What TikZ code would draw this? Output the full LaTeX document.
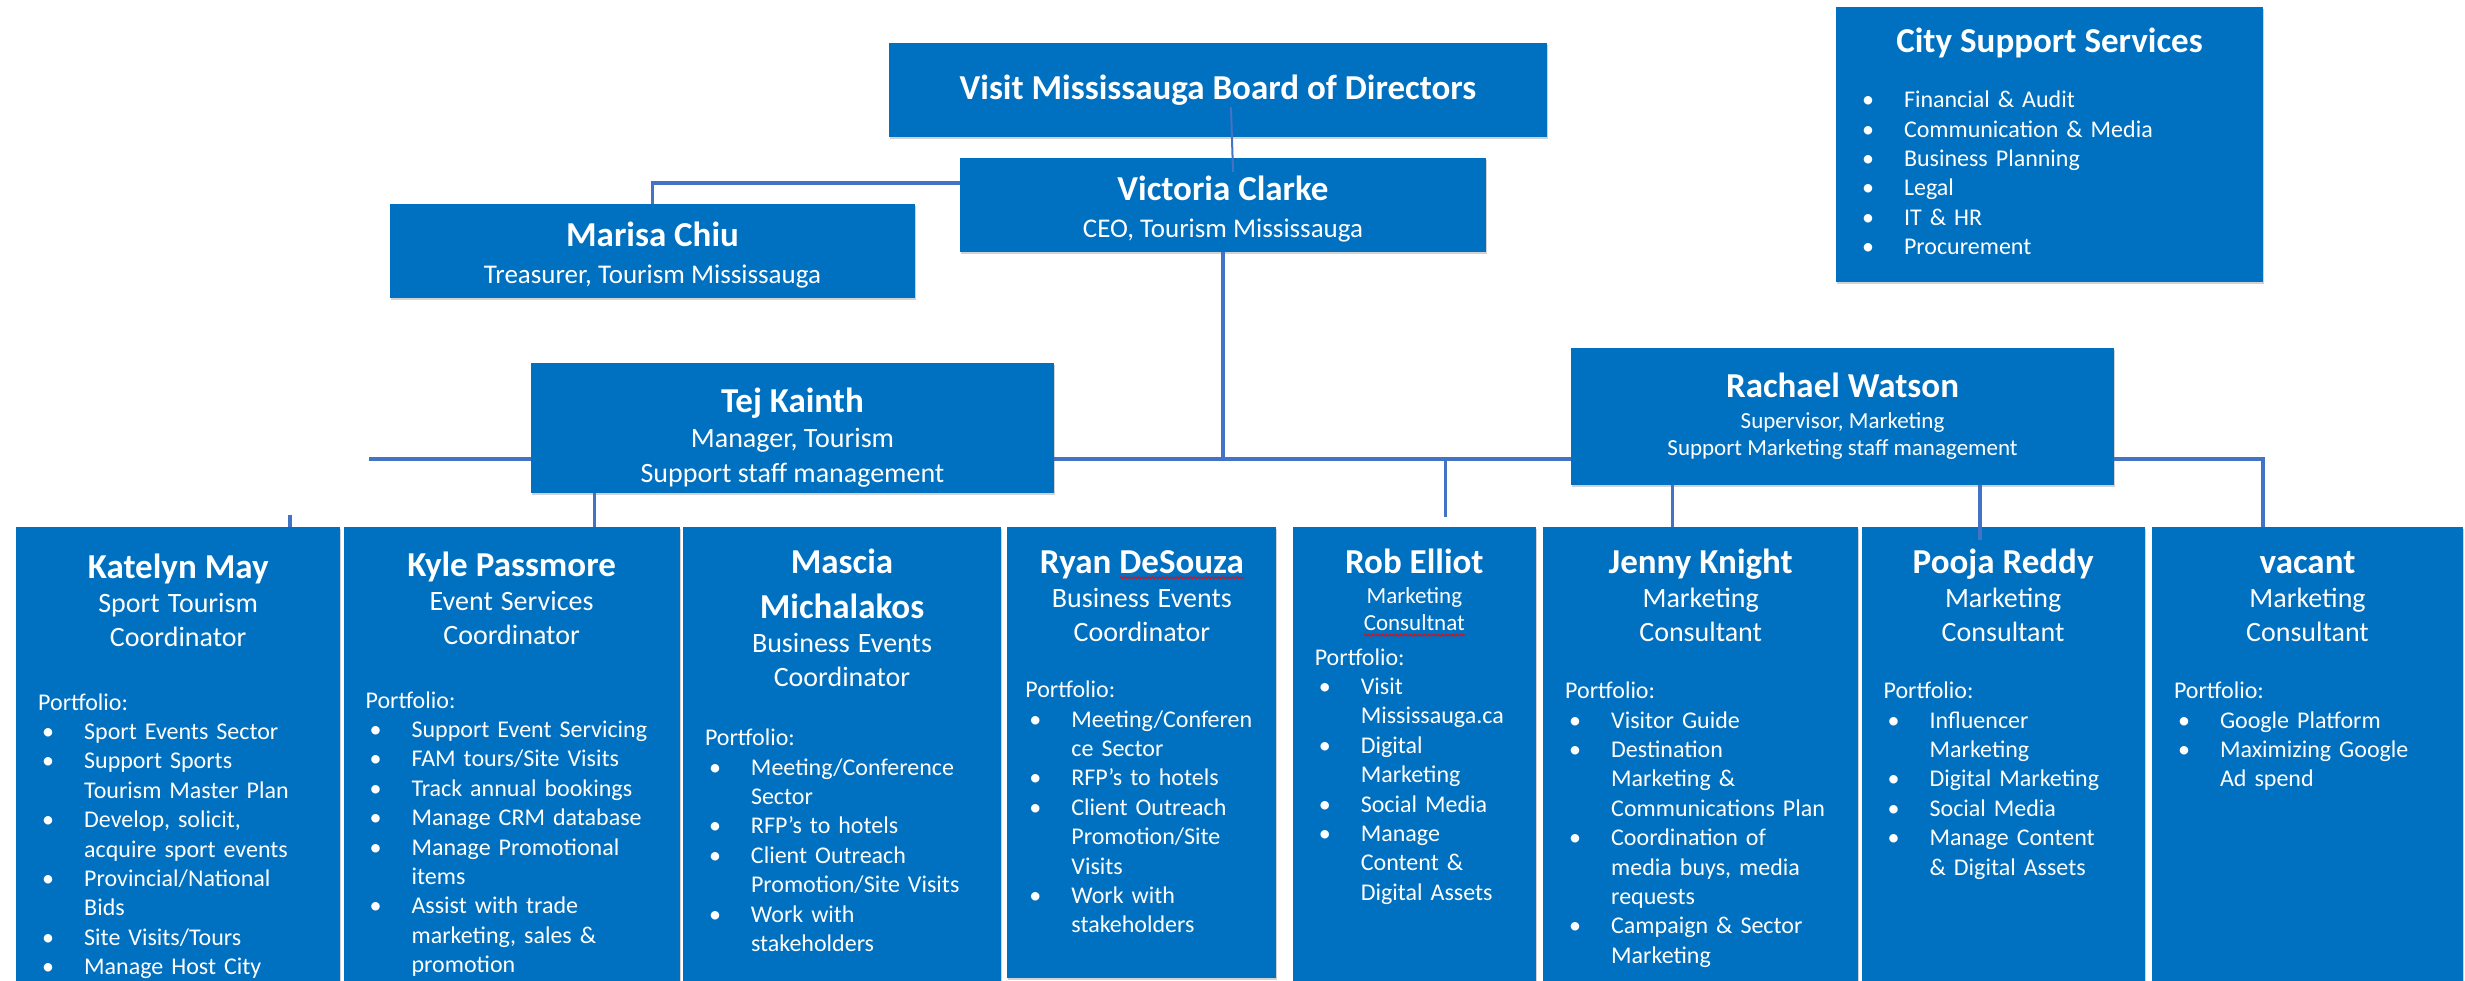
\documentclass[tikz,border=0pt]{standalone}
\usepackage{fontspec}
\setmainfont{Carlito}
\usetikzlibrary{positioning,shadows,decorations.pathmorphing}

\definecolor{boxblue}{RGB}{0,112,192}
\definecolor{linkblue}{RGB}{68,114,196}
\hyphenpenalty=10000
\exhyphenpenalty=10000

\tikzstyle{boss} = [rectangle, fill=boxblue, text=white, align=center, inner sep=0pt,
    minimum height=94pt, font=\fontsize{27}{37}\selectfont,
    drop shadow={shadow xshift=1pt, shadow yshift=-2pt, opacity=.35}]
\tikzstyle{staffbox} = [rectangle, fill=boxblue, inner sep=0pt, minimum height=470pt,
    drop shadow={shadow xshift=1pt, shadow yshift=-2pt, opacity=.35}]
\tikzstyle{stafftext} = [text=white, inner sep=0pt, align=left,
    font=\fontsize{24}{29.4}\selectfont]
\tikzstyle{link} = [draw=linkblue, line width=3.5pt]
\tikzstyle{thinlink} = [draw=linkblue, line width=2pt]

% name, job title and portfolio lines inside the staff boxes
\newcommand{\pname}[1]{{\centering\fontsize{35}{45}\selectfont\bfseries\strut#1\par}}
\newcommand{\ptitle}[1]{{\centering\fontsize{28}{34}\selectfont#1\par}}
\newcommand{\pfolio}[1][30pt]{\vspace{#1}Portfolio:\par}
\newcommand{\pitem}[1]{{\def\\{\unskip\hfil\break}%
    \hangindent=46pt\hangafter=1\noindent
    \makebox[46pt][l]{\hspace{4pt}\textbullet}#1\par}}
% red spell-check wave under a word
\newsavebox{\typobox}
\newcommand{\typo}[1]{\leavevmode\sbox{\typobox}{#1}\rlap{\tikz[baseline=0pt]\draw[red, line width=.9pt,
    decorate, decoration={snake, amplitude=.9pt, segment length=3.5pt}]
    (0pt,-4.5pt) -- (\wd\typobox,-4.5pt);}\usebox{\typobox}}

\begin{document}
\begin{tikzpicture}[x=1pt, y=-1pt]
    \useasboundingbox (0,0) rectangle (2465,981);
    \clip (0,0) rectangle (2465,981);
    \fill[white] (0,0) rectangle (2465,981);

    % board, CEO and managers
    \node [boss, minimum width=658pt, font=\fontsize{35}{40}\selectfont\bfseries] (board) at (1218,90) {Visit Mississauga Board of Directors};
    \node [boss, minimum width=526pt] (victoria) at (1223,205) {{\fontsize{35}{37}\selectfont\bfseries\rule{0pt}{32pt}Victoria Clarke}\\CEO, Tourism Mississauga};
    \node [boss, minimum width=525pt] (marisa) at (652.5,251) {{\fontsize{35}{37}\selectfont\bfseries\rule{0pt}{32pt}Marisa Chiu}\\Treasurer, Tourism Mississauga};
    \node [boss, minimum width=523pt, minimum height=130pt, font=\fontsize{28}{35}\selectfont] (tej) at (792.5,428) {{\fontsize{35}{37}\selectfont\bfseries\rule{0pt}{44pt}Tej Kainth}\\Manager, Tourism\\Support staff management};
    \node [boss, minimum width=543pt, minimum height=137pt, font=\fontsize{23}{27}\selectfont] (rachael) at (1842.5,416.5) {{\fontsize{35}{37}\selectfont\bfseries Rachael Watson}\\[4pt]Supervisor, Marketing\\Support Marketing staff management};

    % city services
    \node [staffbox, minimum width=427pt, minimum height=275pt] (city) at (2049.5,144.5) {};
    \node [stafftext, text width=383pt, below=14.5pt of city.north] (cityText) {%
        \pname{City Support Services}
        \vspace{23.5pt}
        \pitem{Financial \& Audit}
        \pitem{Communication \& Media}
        \pitem{Business Planning}
        \pitem{Legal}
        \pitem{IT \& HR}
        \pitem{Procurement}};

    % staff row
    \node [staffbox, minimum width=324pt, anchor=north west] (kmay) at (16,527) {};
    \node [staffbox, minimum width=336pt, right=3pt of kmay] (kpass) {};
    \node [staffbox, minimum width=318pt, right=3pt of kpass] (mmich) {};
    \node [staffbox, minimum width=269pt, minimum height=451pt, right=6pt of mmich.north east, anchor=north west] (rdes) {};
    \node [staffbox, minimum width=243pt, right=16pt of rdes.north east, anchor=north west] (relliot) {};
    \node [staffbox, minimum width=315pt, right=7pt of relliot] (jknight) {};
    \node [staffbox, minimum width=283pt, right=3pt of jknight] (preddy) {};
    \node [staffbox, minimum width=311pt, right=7pt of preddy] (vacant) {};

    \node [stafftext, text width=280pt, below=20pt of kmay.north] (kmayText) {%
        \pname{Katelyn May}
        \ptitle{Sport Tourism\\Coordinator}
        \pfolio[34pt]
        \pitem{Sport Events Sector}
        \pitem{Support Sports\\Tourism Master Plan}
        \pitem{Develop, solicit,\\acquire sport events}
        \pitem{Provincial/National\\Bids}
        \pitem{Site Visits/Tours}
        \pitem{Manage Host City}};
    \node [stafftext, text width=292pt, below=18pt of kpass.north] (kpassText) {%
        \pname{Kyle Passmore}
        \ptitle{Event Services\\Coordinator}
        \pfolio[34pt]
        \pitem{Support Event Servicing}
        \pitem{FAM tours/Site Visits}
        \pitem{Track annual bookings}
        \pitem{Manage CRM database}
        \pitem{Manage Promotional\\items}
        \pitem{Assist with trade\\marketing, sales \&\\promotion}};
    \node [stafftext, text width=274pt, below=14.5pt of mmich.north] (mmichText) {%
        \pname{Mascia\\Michalakos}
        \ptitle{Business Events\\Coordinator}
        \pfolio
        \pitem{Meeting/Conference\\Sector}
        \pitem{RFP’s to hotels}
        \pitem{Client Outreach\\Promotion/Site Visits}
        \pitem{Work with\\stakeholders}};
    \node [stafftext, text width=233pt, below=14.5pt of rdes.north] (rdesText) {%
        \pname{Ryan \typo{DeSouza}}
        \ptitle{Business Events\\Coordinator}
        \pfolio[27pt]
        \pitem{Meeting/Conferen\\ce Sector}
        \pitem{RFP’s to hotels}
        \pitem{Client Outreach\\Promotion/Site\\Visits}
        \pitem{Work with\\stakeholders}};
    \node [stafftext, text width=199pt, below=14.5pt of relliot.north] (relliotText) {%
        \pname{Rob Elliot}
        {\centering\fontsize{23}{27}\selectfont Marketing\\\typo{Consultnat}\par}
        \pfolio[5pt]
        \pitem{Visit\\Mississauga.ca}
        \pitem{Digital\\Marketing}
        \pitem{Social Media}
        \pitem{Manage\\Content \&\\Digital Assets}};
    \node [stafftext, text width=271pt, below=14.5pt of jknight.north] (jknightText) {%
        \pname{Jenny Knight}
        \ptitle{Marketing\\Consultant}
        \pfolio[28pt]
        \pitem{Visitor Guide}
        \pitem{Destination\\Marketing \&\\Communications Plan}
        \pitem{Coordination of\\media buys, media\\requests}
        \pitem{Campaign \& Sector\\Marketing}};
    \node [stafftext, text width=239pt, below=14.5pt of preddy.north] (preddyText) {%
        \pname{Pooja Reddy}
        \ptitle{Marketing\\Consultant}
        \pfolio[28pt]
        \pitem{Influencer\\Marketing}
        \pitem{Digital Marketing}
        \pitem{Social Media}
        \pitem{Manage Content\\\& Digital Assets}};
    \node [stafftext, text width=267pt, below=14.5pt of vacant.north] (vacantText) {%
        \pname{vacant}
        \ptitle{Marketing\\Consultant}
        \pfolio[28pt]
        \pitem{Google Platform}
        \pitem{Maximizing Google\\Ad spend}};

    % reporting lines
    \coordinate (busL) at (369,459);
    \coordinate (busR) at (2263,459);
    \path [link] (busL) -- (busL -| tej.west);
    \path [link] (tej.east |- busL) -- (rachael.west |- busL);
    \path [link] (rachael.east |- busL) -- (busR) -- (busR |- vacant.north);
    \path [thinlink] ([xshift=13pt,yshift=30pt]board.south) -- ([xshift=10pt,yshift=-14pt]victoria.north);
    \path [link] ([yshift=22pt]victoria.west) -| (marisa.north);
    \path [link] (victoria.south) -- (victoria.south |- busL);
    \path [link] ([xshift=112pt]kmay.north) -- ++(0,-12);
    \path [link] ([xshift=83pt]kpass.north) -- ([xshift=83pt]kpass.north |- tej.south);
    \path [link] ([xshift=31pt]relliot.north |- busL) -- ([xshift=31pt,yshift=10pt]relliot.north);
    \path [link] ([xshift=-28pt]jknight.north) -- ([xshift=-28pt]jknight.north |- rachael.south);
    \path [link] ([xshift=-23pt,yshift=-13pt]preddy.north) -- ([xshift=-23pt]preddy.north |- rachael.south);
\end{tikzpicture}
\end{document}
